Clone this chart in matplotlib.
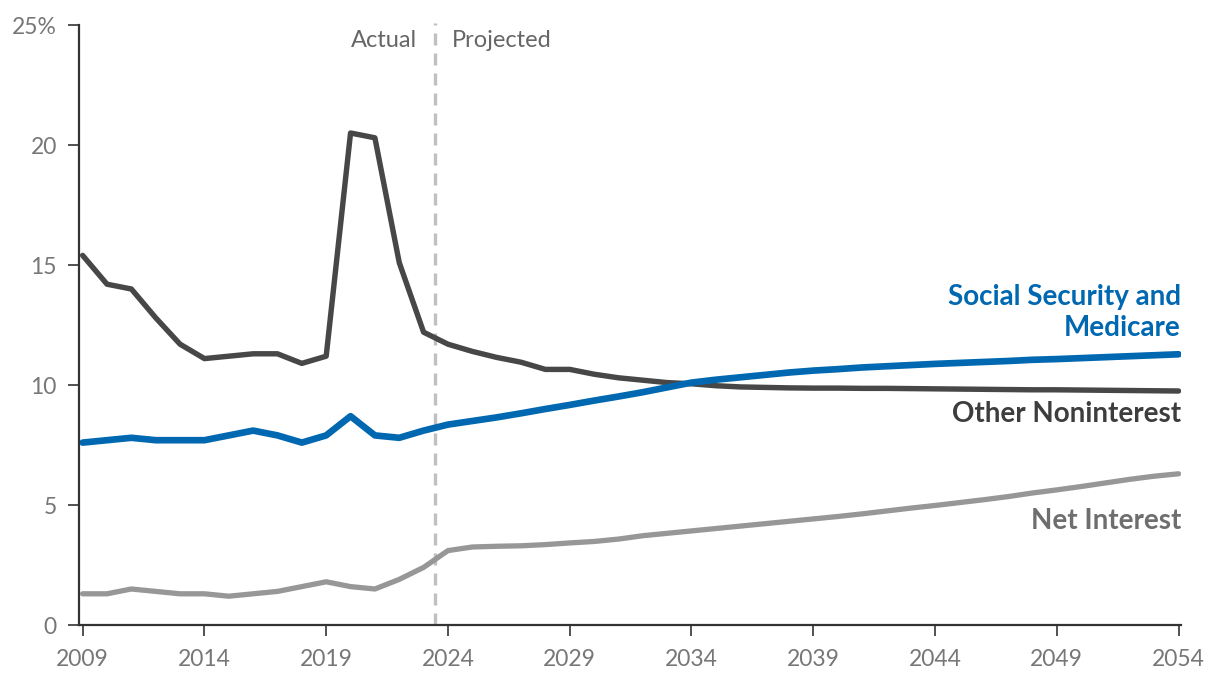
import numpy as np
import matplotlib
matplotlib.use("Agg")
import matplotlib.pyplot as plt

plt.rcParams['font.family'] = ['Lato', 'DejaVu Sans']

# Outlays as a share of GDP, 2009-2054
years = list(range(2009, 2055))

other_noninterest = [15.4, 14.2, 14.0, 12.8, 11.7, 11.1, 11.2, 11.3, 11.3, 10.9,
                     11.2, 20.5, 20.3, 15.1, 12.2, 11.7, 11.4, 11.15, 10.95, 10.65,
                     10.65, 10.45, 10.3, 10.2, 10.1, 10.05, 9.97, 9.92, 9.9, 9.88,
                     9.87, 9.87, 9.86, 9.86, 9.85, 9.84, 9.83, 9.82, 9.81, 9.8,
                     9.8, 9.79, 9.78, 9.77, 9.76, 9.75]

ss_medicare = [7.6, 7.7, 7.8, 7.7, 7.7, 7.7, 7.9, 8.1, 7.9, 7.6,
               7.9, 8.7, 7.9, 7.8, 8.1, 8.35, 8.5, 8.65, 8.82, 9.0,
               9.17, 9.35, 9.52, 9.7, 9.9, 10.1, 10.22, 10.32, 10.42, 10.52,
               10.6, 10.66, 10.73, 10.78, 10.83, 10.88, 10.92, 10.96, 11.0, 11.05,
               11.08, 11.12, 11.16, 11.2, 11.24, 11.28]

net_interest = [1.3, 1.3, 1.5, 1.4, 1.3, 1.3, 1.2, 1.3, 1.4, 1.6,
                1.8, 1.6, 1.5, 1.9, 2.4, 3.1, 3.25, 3.28, 3.3, 3.35,
                3.42, 3.48, 3.58, 3.72, 3.82, 3.92, 4.02, 4.12, 4.22, 4.32,
                4.42, 4.52, 4.63, 4.75, 4.87, 4.98, 5.1, 5.22, 5.35, 5.5,
                5.63, 5.77, 5.92, 6.07, 6.2, 6.3]

xticks = list(range(2009, 2055, 5))
yticks = [0, 5, 10, 15, 20, 25]
ytick_labels = ["0", "5", "10", "15", "20", "25%"]
split_year = 2023.45

BLUE = "#0068b1"
DARK = "#474747"
LIGHT = "#979797"
TICK_GRAY = "#777777"

fig = plt.figure(figsize=(12.2, 6.88), dpi=100)
ax = fig.add_axes([79 / 1220, 63 / 688, (1181 - 79) / 1220, 600 / 688])

ax.plot(years, net_interest, color=LIGHT, lw=3.8, solid_capstyle='round', solid_joinstyle='round')
ax.plot(years, other_noninterest, color=DARK, lw=3.9, solid_capstyle='round', solid_joinstyle='round')
ax.plot(years, ss_medicare, color=BLUE, lw=4.8, solid_capstyle='round', solid_joinstyle='round')

# actual / projected divider
ax.plot([split_year, split_year], [0, 25.1], color="#c0c0c0", lw=2.4, ls=(0, (3.6, 2.4)),
        clip_on=False, zorder=0)
ax.text(split_year - 0.7, 24.35, "Actual", ha='right', va='center', fontsize=17, color="#666666")
ax.text(split_year + 0.7, 24.35, "Projected", ha='left', va='center', fontsize=17, color="#666666")

# series labels
ax.text(2054.1, 13.02, "Social Security and\nMedicare", ha='right', va='center', fontsize=20,
        fontweight='bold', color=BLUE, linespacing=1.27)
ax.text(2054.1, 8.8, "Other Noninterest", ha='right', va='center', fontsize=20,
        fontweight='bold', color="#3d3d3d")
ax.text(2054.1, 4.35, "Net Interest", ha='right', va='center', fontsize=20,
        fontweight='bold', color="#6e6e6e")

ax.set_xlim(2008.85, 2054.1)
ax.set_ylim(0, 25)
ax.set_xticks(xticks)
ax.set_yticks(yticks)
ax.set_yticklabels(ytick_labels)

for s in ['top', 'right']:
    ax.spines[s].set_visible(False)
for s in ['left', 'bottom']:
    ax.spines[s].set_color("#333333")
    ax.spines[s].set_linewidth(1.6)

ax.tick_params(axis='both', colors="#333333", labelcolor=TICK_GRAY, labelsize=16.5,
               length=8, width=1.2)
ax.tick_params(axis='x', pad=9)
ax.tick_params(axis='y', pad=8)

fig.savefig("out.png", dpi=100)
